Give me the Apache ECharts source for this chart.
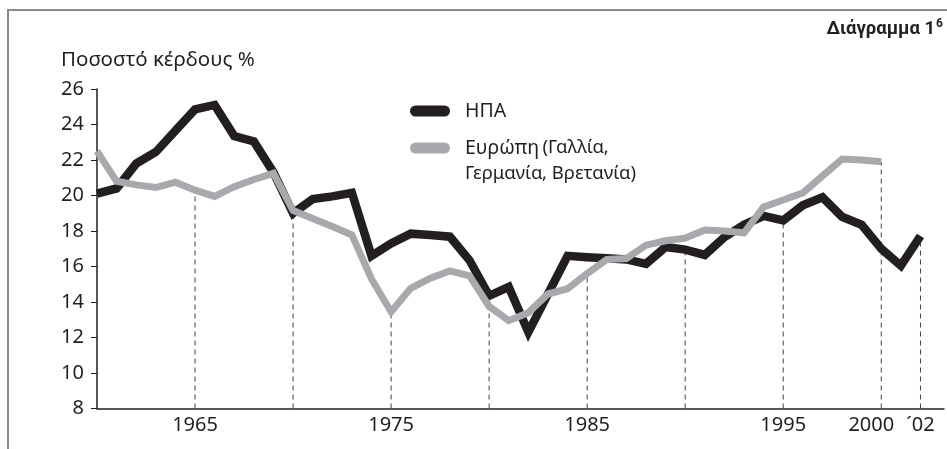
<!DOCTYPE html>
<html>
<head>
<meta charset="utf-8">
<script src="https://cdn.jsdelivr.net/npm/echarts@6/dist/echarts.min.js"></script>
<style>
html, body { margin: 0; padding: 0; background: #fff; }
#chart { width: 947px; height: 449px; }
</style>
</head>
<body>
<div id="chart"></div>
<script>
// years 1960 .. 2002
var years = [1960, 1961, 1962, 1963, 1964, 1965, 1966, 1967, 1968, 1969,
             1970, 1971, 1972, 1973, 1974, 1975, 1976, 1977, 1978, 1979,
             1980, 1981, 1982, 1983, 1984, 1985, 1986, 1987, 1988, 1989,
             1990, 1991, 1992, 1993, 1994, 1995, 1996, 1997, 1998, 1999,
             2000, 2001, 2002];

var usa = [20.1, 20.4, 21.8, 22.45, 23.65, 24.85, 25.1, 23.35, 23.05, 21.3,
           19.0, 19.8, 19.95, 20.15, 16.6, 17.3, 17.85, 17.78, 17.68, 16.35,
           14.35, 14.85, 12.3, 14.45, 16.6, 16.52, 16.46, 16.4, 16.15, 17.1,
           16.95, 16.65, 17.65, 18.35, 18.85, 18.6, 19.45, 19.9, 18.8, 18.35,
           17.0, 16.05, 17.72];

// Europe stops at 2000
var europe = [22.5, 20.8, 20.6, 20.45, 20.75, 20.3, 19.95, 20.5, 20.9, 21.25,
              19.15, 18.7, 18.25, 17.78, 15.3, 13.45, 14.77, 15.34, 15.75, 15.47,
              13.75, 12.95, 13.4, 14.45, 14.75, 15.6, 16.4, 16.45, 17.2, 17.45,
              17.6, 18.05, 18.0, 17.9, 19.35, 19.75, 20.15, 21.1, 22.05, 22.0,
              21.9];

var labelYears = [1965, 1975, 1985, 1995, 2000, 2002];
var labelTexts = ['1965', '1975', '1985', '1995', '2000', '´02'];

// dashed drop lines: year and the height they reach
var dropYears = [1965, 1970, 1975, 1980, 1985, 1990, 1995, 2000, 2002];
var dropTops  = [20.3, 19.1, 13.45, 13.75, 15.6, 16.95, 18.6, 21.9, 17.72];

var ink = '#231f20';
var font = 'Noto Sans';

var usaData = years.map(function (y, i) { return [y, usa[i]]; });
var euData = europe.map(function (v, i) { return [years[i], v]; });
var dropData = dropYears.map(function (y, i) { return [y, dropTops[i]]; });

var option = {
    animation: false,
    backgroundColor: '#fff',
    title: {
        text: '{a|Διάγραμμα 1}{b|6}',
        right: 4,
        top: 18,
        padding: 0,
        textStyle: {
            rich: {
                a: { fontSize: 18.5, fontWeight: 'bold', fontFamily: 'Roboto', color: ink },
                b: { fontSize: 12, fontWeight: 'bold', fontFamily: 'Roboto', color: ink, padding: [0, 0, 11, 1] }
            }
        }
    },
    legend: {
        data: ['ΗΠΑ', 'Ευρώπη'],
        orient: 'vertical',
        left: 410,
        top: 101,
        padding: 0,
        itemWidth: 40,
        itemHeight: 11,
        itemGap: 17,
        icon: 'path://M5.5,0 H34.5 A5.5,5.5 0 0 1 34.5,11 H5.5 A5.5,5.5 0 0 1 5.5,0 Z',
        itemStyle: { borderWidth: 0 },
        formatter: function (name) {
            return name === 'Ευρώπη' ? '{big|Ευρώπη} {small|(Γαλλία,}' : '{big|' + name + '}';
        },
        textStyle: {
            color: ink,
            padding: [0, 0, 0, 10],
            rich: {
                big: { fontSize: 19.5, fontFamily: font, color: ink },
                small: { fontSize: 18.5, fontFamily: font, color: ink }
            }
        }
    },
    grid: { left: 97, right: 0, top: 89, bottom: 40.5 },
    xAxis: {
        type: 'value',
        min: 1960,
        max: 2003.2,
        interval: 1,
        axisLine: { lineStyle: { color: ink, width: 1.5 } },
        axisTick: { show: false },
        splitLine: { show: false },
        axisLabel: {
            fontSize: 20,
            fontFamily: font,
            color: ink,
            margin: 7,
            formatter: function (v) {
                var r = Math.round(v);
                var i = labelYears.indexOf(r);
                if (i < 0 || Math.abs(v - r) > 1e-6) return '';
                // 2000 sits a little left of its tick to make room for ´02
                return r === 2000 ? '{l|' + labelTexts[i] + '}' : labelTexts[i];
            },
            rich: {
                l: { fontSize: 20, fontFamily: font, color: ink, padding: [0, 20, 0, 0] }
            }
        }
    },
    yAxis: {
        type: 'value',
        min: 8,
        max: 26,
        interval: 2,
        axisLine: { show: true, lineStyle: { color: ink, width: 1.5 } },
        axisTick: { show: true, length: 6, lineStyle: { color: ink, width: 1 } },
        splitLine: { show: false },
        axisLabel: { fontSize: 20, fontFamily: font, color: ink, margin: 13 }
    },
    graphic: [
        {
            type: 'polyline',
            shape: { points: [[8, 449], [8, 10], [947, 10]] },
            style: { stroke: '#8a8a8a', lineWidth: 2, fill: null }
        },
        {
            type: 'text',
            x: 61,
            y: 60,
            style: { text: 'Ποσοστό κέρδους %', fontSize: 20.5, fontFamily: font, fill: ink, verticalAlign: 'middle' }
        },
        {
            type: 'text',
            x: 465,
            y: 174,
            style: { text: 'Γερμανία, Βρετανία)', fontSize: 18.5, fontFamily: font, fill: ink, verticalAlign: 'middle' }
        }
    ],
    series: [
        {
            type: 'custom',
            z: 1,
            silent: true,
            data: dropData,
            renderItem: function (params, api) {
                var p0 = api.coord([api.value(0), 8]);
                var p1 = api.coord([api.value(0), api.value(1)]);
                return {
                    type: 'line',
                    shape: { x1: p0[0], y1: p0[1], x2: p1[0], y2: p1[1] },
                    style: { stroke: '#444', lineWidth: 1, lineDash: [5, 4] }
                };
            }
        },
        {
            name: 'ΗΠΑ',
            type: 'line',
            z: 2,
            data: usaData,
            color: ink,
            symbol: 'none',
            lineStyle: { width: 8.5, color: ink, join: 'miter', cap: 'butt' }
        },
        {
            name: 'Ευρώπη',
            type: 'line',
            z: 3,
            data: euData,
            color: '#a7a9ac',
            symbol: 'none',
            lineStyle: { width: 7, color: '#a7a9ac', join: 'miter', cap: 'butt' }
        }
    ]
};

var chart = echarts.init(document.getElementById('chart'));
chart.setOption(option);
</script>
</body>
</html>
